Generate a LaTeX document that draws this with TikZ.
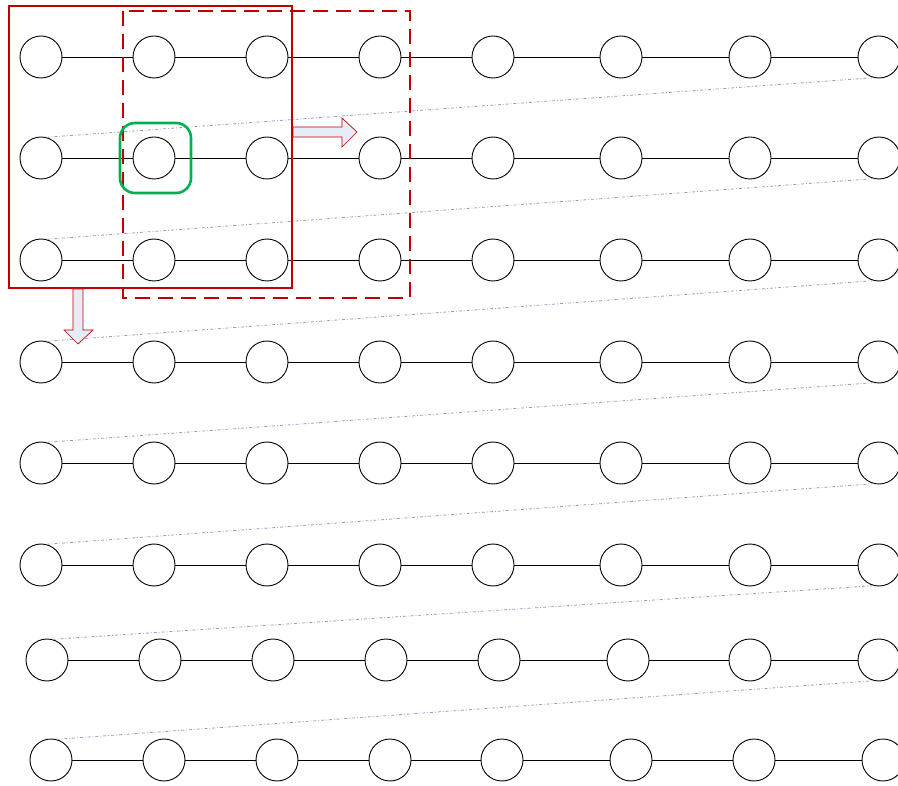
\documentclass[tikz,border=0pt]{standalone}
\usepackage{tikz}

\definecolor{boxred}{RGB}{192,0,0}
\definecolor{boxgreen}{RGB}{0,176,80}
\definecolor{arrowfill}{RGB}{230,236,246}
\definecolor{scanline}{RGB}{160,150,195}

\begin{document}
\begin{tikzpicture}[x=1pt, y=-1pt,
    vertex/.style={circle, draw, line width=0.9pt, fill=white, minimum size=42pt, inner sep=0pt},
    link/.style={line width=0.9pt},
    scan/.style={scanline, line width=0.8pt, dash dot},
    window/.style={boxred, line width=2.6pt},
    blockarrow/.style={draw=boxred, fill=arrowfill, line width=0.7pt}]

\useasboundingbox (0,0) rectangle (898,786);

% Rows 1 to 6 of vertices
\foreach \r/\y in {1/57, 2/158, 3/260, 4/362, 5/463, 6/565} {
    \foreach \x [count=\c] in {41, 154, 267, 380, 493, 621, 750, 879} {
        \node[vertex] (n\r-\c) at (\x,\y) {};
    }
}

% Rows 7 and 8 are shifted slightly
\foreach \x [count=\c] in {47, 160, 273, 386, 499, 628, 750, 879} {
    \node[vertex] (n7-\c) at (\x,660) {};
}
\foreach \x [count=\c] in {51, 164, 277, 390, 502, 631, 754, 883} {
    \node[vertex] (n8-\c) at (\x,760) {};
}

% Horizontal links
\foreach \r in {1,...,8} {
    \foreach \c in {1,...,7} {
        \pgfmathtruncatemacro{\d}{\c+1}
        \draw[link] (n\r-\c) -- (n\r-\d);
    }
}

% Scan order from the end of one row to the start of the next
\foreach \r in {1,...,7} {
    \pgfmathtruncatemacro{\s}{\r+1}
    \draw[scan] (n\s-1.75) -- (n\r-8.-105);
}

% Sliding windows
\draw[window] (9,6) rectangle (292,288);
\draw[window, dash pattern=on 15pt off 8pt] (123,11) rectangle (410,298);
\draw[boxgreen, line width=2.6pt, rounded corners=15pt] (120,123) rectangle (191,193);

% Block arrows
\draw[blockarrow] (293,127) -- (342,127) -- (342,118) -- (357,132)
    -- (342,147) -- (342,137) -- (293,137) -- cycle;
\draw[blockarrow] (73,289) -- (83,289) -- (83,330) -- (93,330)
    -- (78,344) -- (64,330) -- (73,330) -- cycle;

\end{tikzpicture}
\end{document}
